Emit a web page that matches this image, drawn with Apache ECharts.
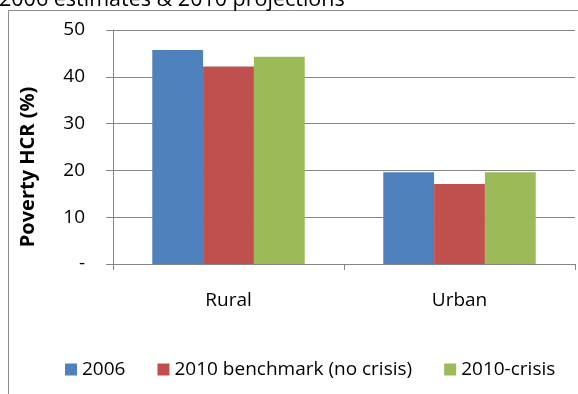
<!DOCTYPE html>
<html><head><meta charset="utf-8">
<script src="https://cdn.jsdelivr.net/npm/echarts@6/dist/echarts.min.js"></script>
<style>html,body{margin:0;padding:0;background:#fff}#c{width:578px;height:394px}</style>
</head><body><div id="c"></div>
<script>
const titleText = "2006 estimates & 2010 projections";
const categories = ["Rural", "Urban"];
const seriesNames = ["2006", "2010 benchmark (no crisis)", "2010-crisis"];
const v2006 = [45.7, 19.6];
const vBenchmark = [42.2, 17.1];
const vCrisis = [44.3, 19.6];
const yTickLabels = {0: "-", 10: "10", 20: "20", 30: "30", 40: "40", 50: "50"};
const colors = ["#4F81BD", "#C0504D", "#9BBB59"];
const font = "Open Sans";

const chart = echarts.init(document.getElementById('c'), null, {renderer: 'canvas'});
const values = [v2006, vBenchmark, vCrisis];
chart.setOption({
  animation: false,
  textStyle: {fontFamily: font},
  title: {text: titleText, left: -1, top: -11, padding: 0, textStyle: {fontFamily: font, fontSize: 21.5, fontWeight: 'normal', color: '#000'}},
  graphic: [{type: 'rect', shape: {x: 8.5, y: 10.5, width: 600, height: 400}, style: {fill: 'none', stroke: '#8c8c8c', lineWidth: 1}, silent: true}],
  grid: {left: 113, right: 3, top: 30, bottom: 130, containLabel: false},
  legend: {top: 355, left: 60, itemWidth: 12, itemHeight: 12, itemGap: 32, icon: 'rect',
    textStyle: {fontFamily: font, fontSize: 19, color: '#000'}, data: seriesNames},
  xAxis: {type: 'category', data: categories,
    axisLine: {lineStyle: {color: '#868686'}},
    axisTick: {show: true, length: 6, lineStyle: {color: '#868686'}},
    axisLabel: {fontFamily: font, fontSize: 19, color: '#000', margin: 27}},
  yAxis: {type: 'value', min: 0, max: 50, interval: 10,
    name: 'Poverty HCR (%)', nameLocation: 'middle', nameGap: 75, nameRotate: 90,
    nameTextStyle: {fontFamily: font, fontSize: 20, fontWeight: 'bold', color: '#000', padding: [0, 40, 0, 0]},
    axisLine: {show: true, lineStyle: {color: '#868686'}},
    axisTick: {show: true, length: 7, lineStyle: {color: '#868686'}},
    splitLine: {lineStyle: {color: '#868686'}},
    axisLabel: {fontFamily: font, fontSize: 19, color: '#000', margin: 28, align: 'right',
      formatter: v => yTickLabels[v]}},
  series: seriesNames.map((n, i) => ({
    name: n, type: 'bar', data: values[i], barGap: '0%', barCategoryGap: '34%',
    itemStyle: {color: colors[i]}
  }))
});
</script></body></html>
